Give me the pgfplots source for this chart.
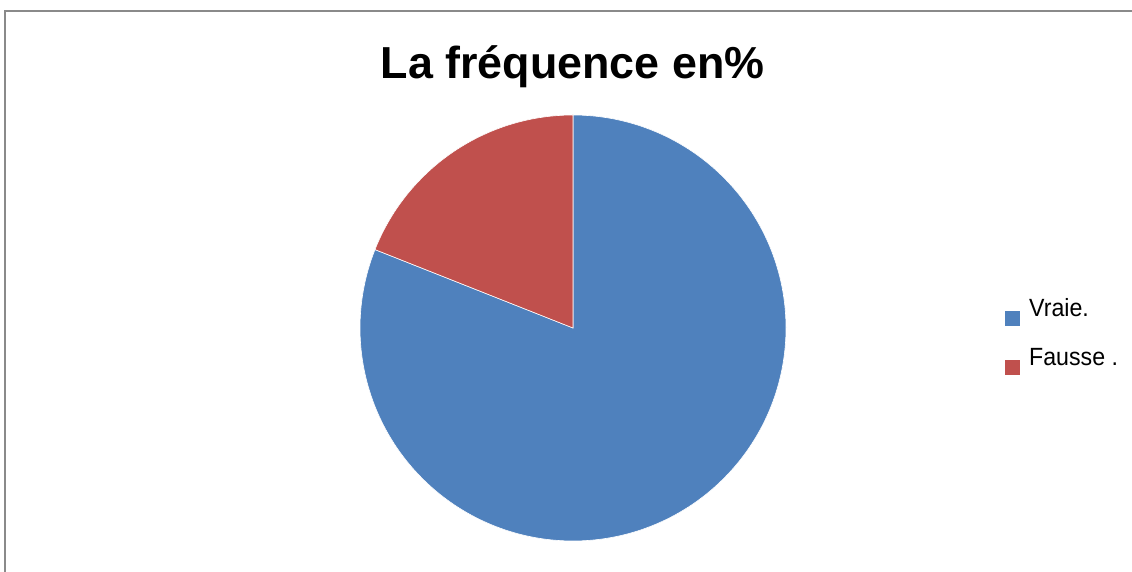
\documentclass[border=0pt]{standalone}
\usepackage{pgfplots}
\pgfplotsset{compat=1.18}
\usepackage{fontspec}
\setmainfont{Liberation Sans}
\newfontfamily\legfont[FakeStretch=0.93]{Liberation Sans}
\definecolor{cblue}{HTML}{4F81BD}
\definecolor{cred}{HTML}{C0504D}
\definecolor{cframe}{HTML}{8A8A8A}
\begin{document}
\begin{tikzpicture}
\path[use as bounding box] (0,0) rectangle (1132bp,572bp);
\begin{axis}[
  at={(0,0)}, anchor=south west,
  width=1132bp, height=572bp, scale only axis,
  xmin=0, xmax=1132, ymin=0, ymax=572,
  hide axis, clip=false,
  title={La fréquence en\%},
  title style={at={(0.5057,0.853)}, anchor=base, font=\fontsize{45}{54}\selectfont\bfseries},
  legend style={at={(axis cs:1005,276)}, anchor=north west, draw=none, fill=none,
    font=\legfont\fontsize{25}{30}\selectfont, row sep=20bp, column sep=7bp, inner sep=0pt, legend cell align=left},
  legend image code/.code={\fill[#1,draw=none] (0bp,-18bp) rectangle (15bp,-3bp);},
]
\draw[cframe, line width=2bp] (axis cs:5,-10) -- (axis cs:5,561) -- (axis cs:1140,561);
% Vraie 81 %, Fausse 19 % (angles: 19*3.6 = 68.4 deg from 90 deg)
\addplot[fill=cblue, draw=white, line width=0.6bp, domain=158.4:450, samples=300]
  ({573+213*cos(x)},{244+213*sin(x)}) -- (axis cs:573,244) -- cycle;
\addlegendentry{Vraie.}
\addplot[fill=cred, draw=white, line width=0.6bp, domain=90:158.4, samples=100]
  ({573+213*cos(x)},{244+213*sin(x)}) -- (axis cs:573,244) -- cycle;
\addlegendentry{Fausse .}
\end{axis}
\end{tikzpicture}
\end{document}
